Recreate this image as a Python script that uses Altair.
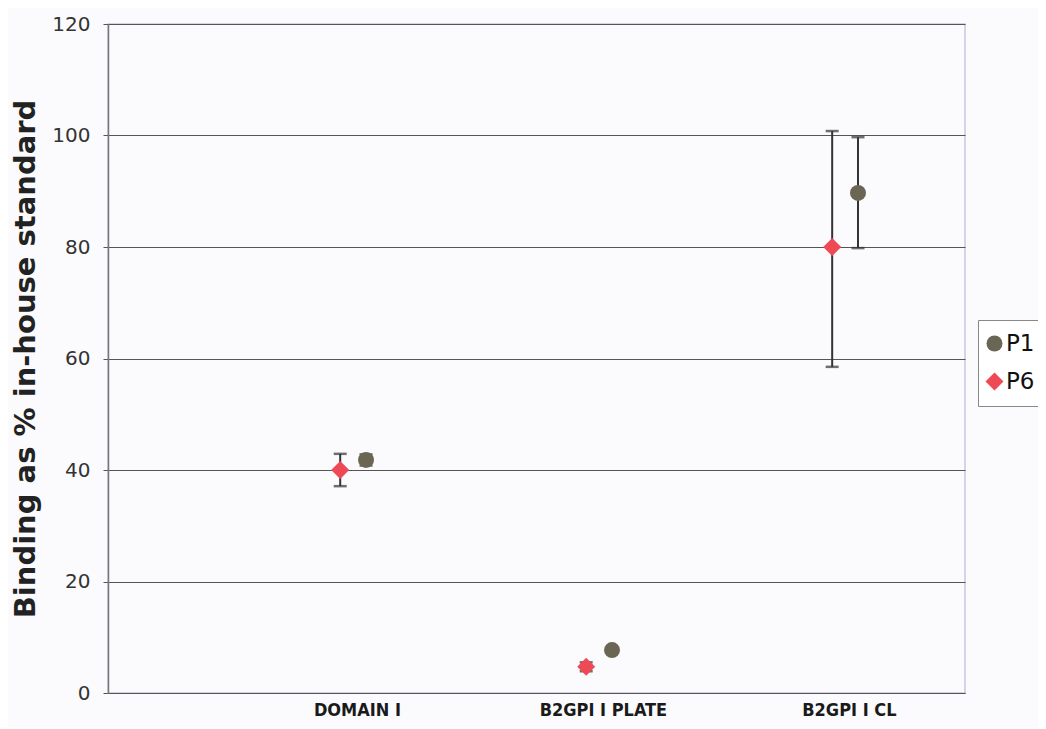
import altair as alt
import pandas as pd

categories = ["DOMAIN I", "B2GPI I PLATE", "B2GPI I CL"]
series_names = ["P1", "P6"]
p1_mean = [41.8, 7.7, 89.7]
p1_low = [40.8, 7.2, 79.8]
p1_high = [42.8, 8.2, 99.7]
p6_mean = [40.0, 4.7, 80.0]
p6_low = [37.1, 3.9, 58.5]
p6_high = [42.9, 5.5, 100.8]
y_ticks = [0, 20, 40, 60, 80, 100, 120]

rows = []
for i, c in enumerate(categories):
    rows.append({"idx": i, "category": c, "series": "P1", "mean": p1_mean[i], "low": p1_low[i], "high": p1_high[i]})
    rows.append({"idx": i, "category": c, "series": "P6", "mean": p6_mean[i], "low": p6_low[i], "high": p6_high[i]})
df = pd.DataFrame(rows)

label_expr = "[" + ",".join("'" + c + "'" for c in categories) + "][datum.value]"

xscale = alt.Scale(domain=[-1.012, 2.472], nice=False, zero=False)
yscale = alt.Scale(domain=[0, 120], nice=False)

x_enc = alt.X("xpos:Q", scale=xscale, axis=alt.Axis(
    values=[0, 1, 2], labelExpr=label_expr, title=None, grid=False, ticks=False,
    domain=True, domainColor="#555555", domainWidth=1.2,
    labelFont="DejaVu Sans Condensed, Roboto Condensed, Liberation Sans Narrow, Roboto",
    labelFontWeight="bold", labelFontSize=18,
    labelColor="#1a1a1a", labelPadding=8, labelFlush=False))

y_axis = alt.Axis(values=y_ticks, title="Binding as % in-house standard",
                  titleFont="DejaVu Sans", titleFontWeight="bold", titleFontSize=29,
                  titleColor="#222222", titlePadding=11,
                  labelFont="DejaVu Sans", labelFontSize=20, labelColor="#333333",
                  labelPadding=13, tickSize=5, tickColor="#555555",
                  grid=True, gridColor="#555555", gridWidth=1.1,
                  domainColor="#777777", domainWidth=1.5)

color_scale = alt.Scale(domain=series_names, range=["#6b6653", "#ee4a55"])
shape_scale = alt.Scale(domain=series_names, range=["circle", "diamond"])

base = alt.Chart(df).transform_calculate(
    xpos="datum.idx + (datum.series == 'P6' ? -0.068 : 0.037)")

rules = base.mark_rule(color="#333333", strokeWidth=2).encode(
    x=x_enc,
    y=alt.Y("low:Q", scale=yscale, axis=y_axis),
    y2="high:Q")

caps_lo = base.mark_tick(color="#333333", thickness=2.5, size=13, orient="horizontal").encode(
    x=alt.X("xpos:Q", scale=xscale), y=alt.Y("low:Q", scale=yscale))
caps_hi = base.mark_tick(color="#333333", thickness=2.5, size=13, orient="horizontal").encode(
    x=alt.X("xpos:Q", scale=xscale), y=alt.Y("high:Q", scale=yscale))

points = base.mark_point(filled=True, opacity=1).encode(
    x=alt.X("xpos:Q", scale=xscale),
    y=alt.Y("mean:Q", scale=yscale),
    color=alt.Color("series:N", scale=color_scale, legend=alt.Legend(
        title=None, orient="none", legendX=870, legendY=296,
        labelFont="DejaVu Sans", labelFontSize=23, labelColor="#111111",
        symbolSize=240, rowPadding=14, padding=12, symbolOffset=-7, labelOffset=0,
        strokeColor="#888888", fillColor="#ffffff", symbolStrokeWidth=0)),
    shape=alt.Shape("series:N", scale=shape_scale),
    size=alt.Size("series:N", scale=alt.Scale(domain=series_names, range=[256, 324]), legend=None))

chart = alt.layer(rules, caps_lo, caps_hi, points).properties(
    width=857, height=669,
    autosize=alt.AutoSizeParams(type="none"),
    padding={"left": 100, "top": 16, "right": 73, "bottom": 34},
    background="#fbfbfd",
).configure_view(stroke="#c8c8dc", strokeWidth=1.5)

chart.save("out.html", embed_options={"renderer": "svg", "actions": False})
